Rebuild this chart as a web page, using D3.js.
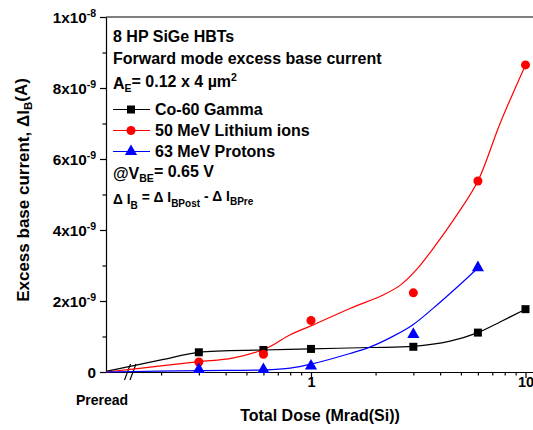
<!DOCTYPE html>
<html>
<head>
<meta charset="utf-8">
<script src="https://cdn.jsdelivr.net/npm/d3@7"></script>
<style>
  html, body { margin: 0; padding: 0; background: #fff; }
  svg { display: block; font-family: "Liberation Sans", Arial, Helvetica, sans-serif; font-weight: bold; }
</style>
</head>
<body>
<svg id="chart" width="533" height="430"></svg>
<script>
// ---- Data: excess base current (units of 1e-9 A) vs total dose (Mrad(Si)) ----
const gammaDose   = [0.3, 0.6, 1, 3, 6, 10];
const gammaIb     = [0.555, 0.62, 0.65, 0.71, 1.11, 1.77];

const lithiumDose = [0.3, 0.6, 1, 3, 6, 10];
const lithiumIb   = [0.28, 0.50, 1.45, 2.23, 5.38, 8.65];

const protonDose  = [0.3, 0.6, 1, 3, 6];
const protonIb    = [0.07, 0.07, 0.17, 1.06, 2.94];

// Trend lines drawn through each series (first entry = Preread)
const gammaFitDose   = ["Preread", 0.2, 0.3, 0.6, 1, 1.88, 3, 4.45, 6, 7.61, 10];
const gammaFitIb     = [0.02, 0.34, 0.555, 0.62, 0.65, 0.69, 0.72, 0.87, 1.11, 1.41, 1.77];
const lithiumFitDose = ["Preread", 0.2, 0.3, 0.43, 0.62, 0.8, 1, 1.52, 2.17, 2.6, 3.11, 3.72, 4.78, 6, 7.61, 10];
const lithiumFitIb   = [0, 0.17, 0.29, 0.39, 0.67, 1.05, 1.3, 1.79, 2.17, 2.44, 2.89, 3.49, 4.42, 5.38, 7.0, 8.65];
const protonFitDose  = ["Preread", 0.3, 0.6, 0.8, 1, 1.52, 1.88, 2.42, 3.0, 3.72, 4.78, 6];
const protonFitIb    = [0, 0.04, 0.06, 0.11, 0.22, 0.52, 0.70, 1.01, 1.34, 1.80, 2.38, 2.93];

// Axis ticks
const yMajor = [0, 2, 4, 6, 8, 10];
const yMinor = [1, 3, 5, 7, 9];
const yTickBase = ["0", "2x10", "4x10", "6x10", "8x10", "1x10"];
const yTickExp  = ["", "-9", "-9", "-9", "-9", "-8"];
const xMajor = [1, 10];
const xMajorLabels = ["1", "10"];
const xMinor = [0.2, 0.3, 0.4, 0.5, 0.6, 0.7, 0.8, 0.9, 2, 3, 4, 5, 6, 7, 8, 9];

const seriesNames = ["Co-60 Gamma", "50 MeV Lithium ions", "63 MeV Protons"];
const seriesColors = ["#000000", "#ff0000", "#0000ff"];

// ---- Layout ----
const svg = d3.select("#chart");
const plotLeft = 106, plotTop = 17, plotBottom = 372, axisRight = 545;

// log dose scale: one decade spans 1 -> 10
const decade = d3.scaleLog().domain([1, 10]).range([311, 525.5]);
const x = d3.scaleLog()
  .domain([decade.invert(plotLeft), decade.invert(axisRight)])
  .range([plotLeft, axisRight]);
const y = d3.scaleLinear().domain([0, 10]).range([plotBottom, plotTop]);

const xPos = d => d === "Preread" ? x(x.domain()[0]) : x(d);

// ---- Axes ----
const gx = svg.append("g").attr("transform", `translate(0,${plotBottom})`)
  .call(d3.axisBottom(x).tickValues(xMajor).tickFormat((d, i) => xMajorLabels[i]).tickSize(6).tickSizeOuter(0));
gx.selectAll("text").attr("y", 0).attr("dy", "15px").style("font-size", "14.5px").style("font-family", "inherit").style("font-weight", "bold");
svg.append("g").attr("transform", `translate(0,${plotBottom})`)
  .call(d3.axisBottom(x).tickValues(xMinor).tickFormat("").tickSize(3.5).tickSizeOuter(0))
  .select(".domain").remove();

const gy = svg.append("g").attr("transform", `translate(${plotLeft},0)`)
  .call(d3.axisLeft(y).tickValues(yMajor).tickSize(6).tickSizeOuter(0).tickPadding(4));
gy.selectAll("text").each(function (d, i) {
  const t = d3.select(this).text(null)
    .style("font-size", "15.3px").style("font-family", "inherit").style("font-weight", "bold")
    .attr("dy", "0.36em");
  t.append("tspan").text(yTickBase[i]);
  if (yTickExp[i]) t.append("tspan").attr("dy", "-0.55em").style("font-size", "10.5px").text(yTickExp[i]);
});
svg.append("g").attr("transform", `translate(${plotLeft},0)`)
  .call(d3.axisLeft(y).tickValues(yMinor).tickFormat("").tickSize(3.5).tickSizeOuter(0))
  .select(".domain").remove();

svg.selectAll(".domain, .tick line").attr("stroke", "#000").attr("stroke-width", 1.2);

// top frame line
svg.append("line").attr("x1", plotLeft).attr("x2", axisRight)
  .attr("y1", plotTop).attr("y2", plotTop).attr("stroke", "#000").attr("stroke-width", 1.2);

// axis break marks between Preread and the dose decade
const brk = svg.append("g").attr("stroke", "#000").attr("stroke-width", 1.2);
[124.5, 130].forEach(bx => {
  brk.append("line").attr("x1", bx).attr("y1", plotBottom + 8).attr("x2", bx + 6).attr("y2", plotBottom - 8);
});

// Preread label
svg.append("text").attr("x", xPos("Preread") - 4).attr("y", 405)
  .attr("text-anchor", "middle").style("font-size", "14px").text("Preread");

// Axis titles
svg.append("text").attr("x", 320).attr("y", 421).attr("text-anchor", "middle")
  .style("font-size", "16px").text("Total Dose (Mrad(Si))");
const yl = svg.append("text").attr("transform", "translate(29,190) rotate(-90)")
  .attr("text-anchor", "middle").style("font-size", "17px");
yl.append("tspan").text("Excess base current, \u0394I");
yl.append("tspan").attr("dy", "0.3em").style("font-size", "11.5px").text("B");
yl.append("tspan").attr("dy", "-0.3em").text("(A)");

// ---- Trend lines ----
const fits = [
  [gammaFitDose, gammaFitIb],
  [lithiumFitDose, lithiumFitIb],
  [protonFitDose, protonFitIb]
];
const line = d3.line().x(p => xPos(p[0])).y(p => y(p[1])).curve(d3.curveCatmullRom.alpha(0.5));
fits.forEach((f, k) => {
  const pts = f[0].map((d, i) => [d, f[1][i]]);
  svg.append("path").attr("d", line(pts)).attr("fill", "none")
    .attr("stroke", seriesColors[k]).attr("stroke-width", 1.2);
});

// ---- Markers ----
const sym = [d3.symbolSquare, d3.symbolCircle, d3.symbolTriangle];
const symSize = [64, 64, 64];
const series = [
  [gammaDose, gammaIb],
  [lithiumDose, lithiumIb],
  [protonDose, protonIb]
];
series.forEach((s, k) => {
  svg.append("g").selectAll("path").data(s[0].map((d, i) => [d, s[1][i]])).join("path")
    .attr("transform", p => `translate(${xPos(p[0])},${y(p[1])})`)
    .attr("d", d3.symbol(sym[k], symSize[k]))
    .attr("fill", seriesColors[k]);
});

// ---- Annotation block and legend ----
const tx = 113;
const note = svg.append("g").style("font-size", "16px");
note.append("text").attr("x", tx).attr("y", 42).text("8 HP SiGe HBTs");
note.append("text").attr("x", tx).attr("y", 63.5).text("Forward mode excess base current");
const ae = note.append("text").attr("x", tx).attr("y", 88.5);
ae.append("tspan").text("A");
ae.append("tspan").attr("dy", "0.35em").style("font-size", "10.5px").text("E");
ae.append("tspan").attr("dy", "-0.35em").text("= 0.12 x 4 \u00b5m");
ae.append("tspan").attr("dy", "-0.5em").style("font-size", "10.5px").text("2");

const legY = [109.5, 130.5, 151.5];
seriesNames.forEach((name, k) => {
  const g = note.append("g");
  g.append("line").attr("x1", tx).attr("x2", 150).attr("y1", legY[k]).attr("y2", legY[k])
    .attr("stroke", seriesColors[k]).attr("stroke-width", 1.2);
  g.append("path").attr("transform", `translate(131,${legY[k]})`)
    .attr("d", d3.symbol(sym[k], symSize[k])).attr("fill", seriesColors[k]);
  g.append("text").attr("x", 155).attr("y", legY[k] + 5.5).text(name);
});

const vbe = note.append("text").attr("x", tx).attr("y", 178.5);
vbe.append("tspan").text("@V");
vbe.append("tspan").attr("dy", "0.35em").style("font-size", "10.5px").text("BE");
vbe.append("tspan").attr("dy", "-0.35em").text("= 0.65 V");

const dib = note.append("text").attr("x", tx).attr("y", 204).style("font-size", "13.8px");
dib.append("tspan").text("\u0394 I");
dib.append("tspan").attr("dy", "0.45em").style("font-size", "10px").text("B");
dib.append("tspan").attr("dy", "-0.45em").text(" = \u0394 I");
dib.append("tspan").attr("dy", "0.45em").style("font-size", "10px").text("BPost");
dib.append("tspan").attr("dy", "-0.45em").text(" - \u0394 I");
dib.append("tspan").attr("dy", "0.45em").style("font-size", "10px").text("BPre");
</script>
</body>
</html>
